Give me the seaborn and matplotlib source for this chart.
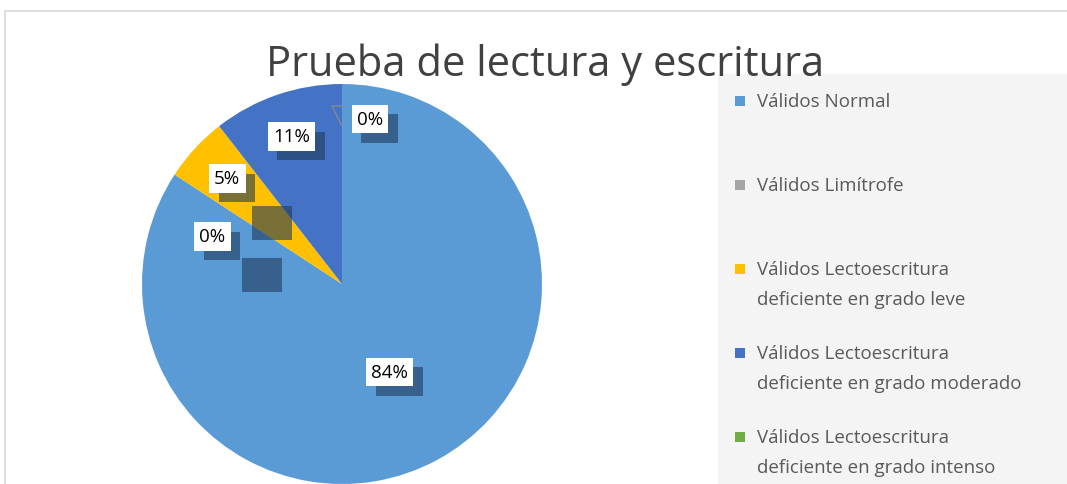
import numpy as np
import seaborn as sns
import matplotlib.pyplot as plt
import matplotlib.patheffects as pe
from matplotlib.patches import Rectangle

# data (counts read as percentages of 19 cases)
categories = ['Válidos Normal',
              'Válidos Limítrofe',
              'Válidos Lectoescritura\ndeficiente en grado leve',
              'Válidos Lectoescritura\ndeficiente en grado moderado',
              'Válidos Lectoescritura\ndeficiente en grado intenso']
counts = [16, 0, 1, 2, 0]
colors = ['#5B9BD5', '#A5A5A5', '#FFC000', '#4472C4', '#70AD47']
title = 'Prueba de lectura y escritura'

sns.set_theme(style='white')
plt.rcParams['font.family'] = ['Open Sans', 'DejaVu Sans']

W, H = 1067, 485
fig = plt.figure(figsize=(W / 100, H / 100), dpi=100)

# chart frame and legend panel
fig.patches.append(Rectangle((5 / W, -0.1), 1.2, 1 - 12 / H + 0.1, transform=fig.transFigure,
                             facecolor='white', edgecolor='#D9D9D9', lw=1.2, zorder=-10))
fig.patches.append(Rectangle((718 / W, -0.1), 1, 1 - 75 / H + 0.1, transform=fig.transFigure,
                             facecolor='#F4F4F4', edgecolor='none', zorder=-9))

ax = fig.add_axes([142 / W, 0, 400 / W, 400 / H])
pal = sns.color_palette(colors)
wedges, _ = ax.pie(counts, colors=pal, startangle=90, counterclock=False,
                   wedgeprops=dict(linewidth=0))
ax.set_xlim(-1, 1)
ax.set_ylim(-1, 1)
ax.set_aspect('equal')
ax.axis('off')

# stray label shadows visible in the original
for (sx, sy) in [(-0.45, 0.22), (-0.5, -0.04)]:
    ax.add_patch(Rectangle((sx, sy), 0.2, 0.17, facecolor='#1F3B5C', alpha=0.6,
                           edgecolor='none', zorder=3))

total = sum(counts)
shadow = [pe.SimplePatchShadow(offset=(7, -7), shadow_rgbFace='#1F3B5C', alpha=0.6),
          pe.Normal()]
for i, (w, c) in enumerate(zip(wedges, counts)):
    mid = np.deg2rad((w.theta1 + w.theta2) / 2)
    if c / total > 0.5:
        x, y = 0.5 * np.cos(mid), 0.5 * np.sin(mid)
    elif c == 0 and i == len(counts) - 1:
        x, y = 0.14, 0.825
        ax.plot([0.01, -0.05, 0.0], [0.89, 0.89, 0.79], color='#8C8C8C', lw=0.9, zorder=4)
    elif c == 0:
        a = mid + np.deg2rad(13)
        x, y = 0.69 * np.cos(a), 0.69 * np.sin(a)
    else:
        x, y = 0.78 * np.cos(mid), 0.78 * np.sin(mid)
    t = ax.text(x, y, f'{c / total * 100:.0f}%', ha='center', va='center',
                fontsize=13.5, color='black', zorder=5,
                bbox=dict(boxstyle='square,pad=0.28', facecolor='white', edgecolor='none'))
    t.get_bbox_patch().set_path_effects(shadow)

fig.text(545 / W, 1 - 65 / H, title, ha='center', va='center',
         fontsize=30, color='#404040')

# legend drawn by hand to keep the wide row spacing of the original
for i, (lab, c) in enumerate(zip(categories, pal)):
    y0 = 102 + 84 * i
    fig.patches.append(Rectangle((735 / W, 1 - (y0 + 5) / H), 10 / W, 10 / H,
                                 transform=fig.transFigure, facecolor=c, edgecolor='none'))
    for j, line in enumerate(lab.split('\n')):
        fig.text(757 / W, 1 - (y0 + 30 * j) / H, line, ha='left', va='center',
                 fontsize=13.5, color='#595959')

fig.savefig('out.png', dpi=100)
